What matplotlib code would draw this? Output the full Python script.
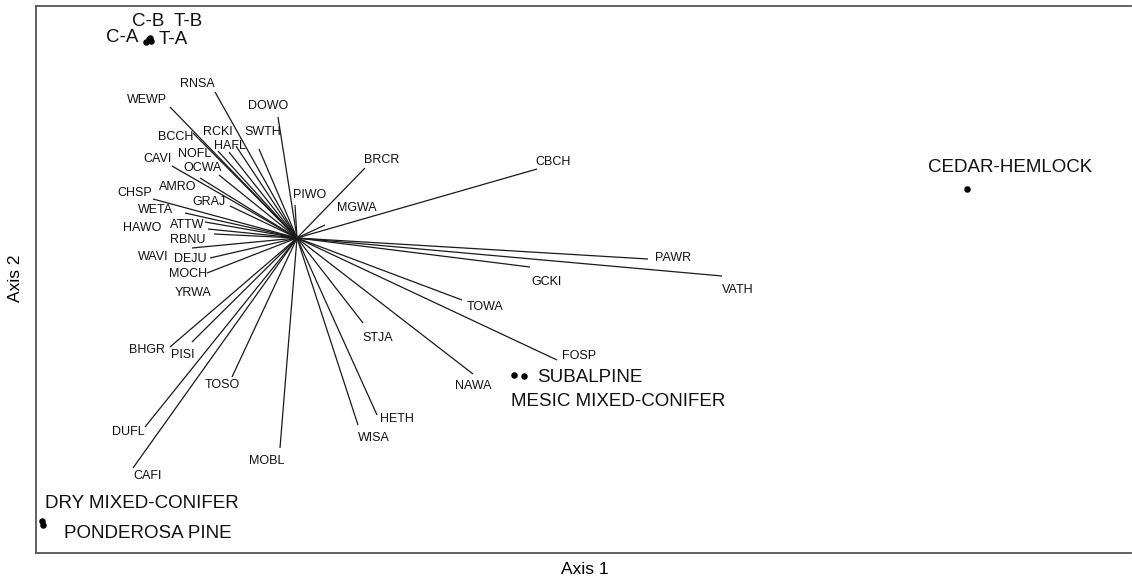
"""
Biplot of species vectors over forest-type group centroids (ordination axes 1 and 2).
"""

import numpy as np
import matplotlib
matplotlib.use("Agg")
import matplotlib.pyplot as plt

plt.rcParams["font.family"] = ["Liberation Sans", "DejaVu Sans"]

LINE_COLOR = "#1a1a1a"
FRAME_COLOR = "#555555"
SPECIES_FONT_SIZE = 9
GROUP_FONT_SIZE = 13.5
AXIS_LABEL_FONT_SIZE = 12.5

# species vectors: tip of the vector (NaN = no visible line) and label position
SPECIES = ["RNSA", "WEWP", "DOWO", "BCCH", "RCKI", "SWTH", "HAFL", "NOFL", "CAVI",
           "OCWA", "AMRO", "CHSP", "PIWO", "GRAJ", "WETA", "HAWO", "ATTW", "RBNU",
           "WAVI", "DEJU", "MOCH", "YRWA", "BHGR", "PISI", "DUFL", "CAFI", "TOSO",
           "MOBL", "WISA", "HETH", "STJA", "NAWA", "FOSP", "TOWA", "GCKI", "VATH",
           "PAWR", "CBCH", "BRCR", "MGWA"]
VEC_X = [-0.82, -1.27, -0.19, -1.04, -0.61, -0.38, -0.68, -0.79, -1.25,
         -0.78, -0.97, -1.44, -0.02, -0.67, -1.12, -0.89, -0.92, -0.83,
         -1.05, -0.87, -0.90, np.nan, -1.27, -1.05, -1.52, -1.64, -0.65,
         -0.17, 0.61, 0.80, 0.66, 1.76, 2.60, 1.65, 2.33, 4.25,
         3.51, 2.40, 0.68, 0.28]
VEC_Y = [1.46, 1.31, 1.21, 1.05, 0.92, 0.89, 0.86, 0.87, 0.72,
         0.63, 0.60, 0.39, 0.33, 0.32, 0.25, 0.09, 0.16, 0.04,
         -0.10, -0.20, -0.35, np.nan, -1.09, -1.04, -1.89, -2.30, -1.39,
         -2.10, -1.87, -1.77, -0.85, -1.36, -1.22, -0.62, -0.29, -0.38,
         -0.21, 0.69, 0.70, 0.13]
LAB_X = [-1.00, -1.50, -0.29, -1.21, -0.79, -0.34, -0.67, -1.02, -1.39,
         -0.94, -1.19, -1.62, 0.13, -0.88, -1.41, -1.55, -1.10, -1.09,
         -1.44, -1.07, -1.09, -1.04, -1.50, -1.14, -1.69, -1.49, -0.75,
         -0.30, 0.77, 1.00, 0.81, 1.76, 2.82, 1.88, 2.49, 4.41,
         3.76, 2.56, 0.85, 0.60]
LAB_Y = [1.54, 1.38, 1.32, 1.01, 1.06, 1.06, 0.92, 0.84, 0.79,
         0.70, 0.51, 0.45, 0.43, 0.36, 0.28, 0.10, 0.13, -0.02,
         -0.19, -0.21, -0.36, -0.55, -1.12, -1.17, -1.94, -2.38, -1.47,
         -2.23, -2.00, -1.81, -1.00, -1.48, -1.18, -0.69, -0.44, -0.52,
         -0.20, 0.76, 0.78, 0.30]

# group centroids
GROUP_X = [-1.51, -1.48, -1.46, -1.47, 6.70, 2.27, 2.17, -2.55, -2.54]
GROUP_Y = [1.96, 1.99, 1.97, 2.00, 0.49, -1.38, -1.37, -2.83, -2.87]

# group labels
GROUP_LABELS = ["C-B", "T-B", "C-A", "T-A", "CEDAR-HEMLOCK", "SUBALPINE",
                "MESIC MIXED-CONIFER", "DRY MIXED-CONIFER", "PONDEROSA PINE"]
GROUP_LAB_X = [-1.49, -1.09, -1.75, -1.24, 7.13, 2.93, 3.21, -1.55, -1.49]
GROUP_LAB_Y = [2.17, 2.17, 2.00, 1.99, 0.70, -1.40, -1.63, -2.66, -2.95]

XLIM = (-2.61, 8.34)
YLIM = (-3.15, 2.32)


def draw_biplot(out_path):
    fig = plt.figure(figsize=(11.32, 5.83), dpi=100)
    ax = fig.add_axes([36 / 1132, 30 / 583, 1095 / 1132, 547 / 583])

    for vx, vy in zip(VEC_X, VEC_Y):
        if np.isnan(vx):
            continue
        ax.plot([0, vx], [0, vy], color=LINE_COLOR, lw=0.9, solid_capstyle="butt")

    for name, lx, ly in zip(SPECIES, LAB_X, LAB_Y):
        ax.text(lx, ly, name, ha="center", va="center",
                fontsize=SPECIES_FONT_SIZE, color="#111111")

    ax.scatter(GROUP_X, GROUP_Y, s=22, color="black", zorder=3, linewidths=0)

    for name, lx, ly in zip(GROUP_LABELS, GROUP_LAB_X, GROUP_LAB_Y):
        ax.text(lx, ly, name, ha="center", va="center",
                fontsize=GROUP_FONT_SIZE, color="#111111")

    ax.set_xlim(*XLIM)
    ax.set_ylim(*YLIM)
    ax.set_xticks([])
    ax.set_yticks([])
    for spine in ax.spines.values():
        spine.set_color(FRAME_COLOR)
        spine.set_linewidth(1.3)
    ax.spines["right"].set_visible(False)

    fig.text(585 / 1132, 1 - 570 / 583, "Axis 1", ha="center", va="center",
             fontsize=AXIS_LABEL_FONT_SIZE)
    fig.text(15 / 1132, 1 - 278 / 583, "Axis 2", ha="center", va="center",
             rotation=90, fontsize=AXIS_LABEL_FONT_SIZE)

    fig.savefig(out_path, dpi=100, facecolor="white")
    plt.close(fig)


def main():
    draw_biplot("out.png")


if __name__ == "__main__":
    main()
